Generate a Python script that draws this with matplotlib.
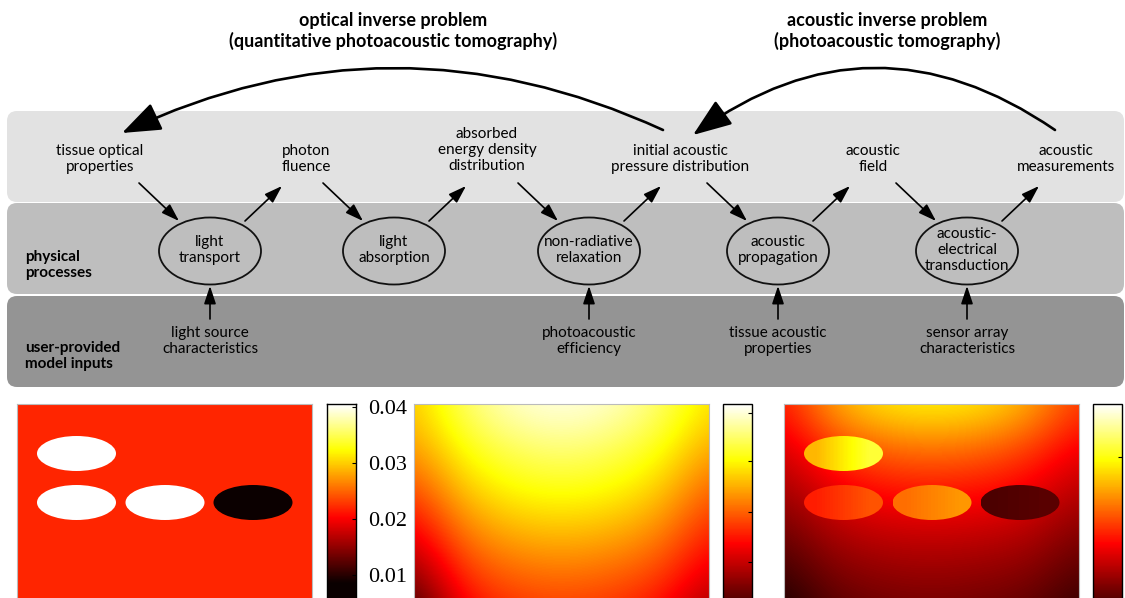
import matplotlib.pyplot as plt
import numpy as np
from matplotlib.patches import FancyBboxPatch, Ellipse, FancyArrowPatch
from matplotlib.colors import Normalize

plt.rcParams['font.family'] = ['Lato', 'DejaVu Sans']

W, H = 1125, 598

# ---- diagram text ----
optical_title = 'optical inverse problem\n(quantitative photoacoustic tomography)'
acoustic_title = 'acoustic inverse problem\n(photoacoustic tomography)'
quantity_labels = ['tissue optical\nproperties', 'photon\nfluence',
                   'absorbed\nenergy density\ndistribution',
                   'initial acoustic\npressure distribution',
                   'acoustic\nfield', 'acoustic\nmeasurements']
process_labels = ['light\ntransport', 'light\nabsorption',
                  'non-radiative\nrelaxation', 'acoustic\npropagation',
                  'acoustic-\nelectrical\ntransduction']
input_labels = ['light source\ncharacteristics', '', 'photoacoustic\nefficiency',
                'tissue acoustic\nproperties', 'sensor array\ncharacteristics']
band_labels = ['physical\nprocesses', 'user-provided\nmodel inputs']

# ---- images ----
mua_background = 0.022
mua_inclusions = [0.045, 0.045, 0.045, 0.004]
cbar1_ticks = [0.01, 0.02, 0.03, 0.04]

# fluence, as fraction of the colour scale (rows top->bottom, cols left->right)
fluence_grid = np.array([
    [0.66, 0.85, 0.95, 0.98, 0.95, 0.86, 0.70],
    [0.59, 0.76, 0.84, 0.87, 0.84, 0.77, 0.61],
    [0.46, 0.66, 0.74, 0.76, 0.74, 0.67, 0.50],
    [0.32, 0.54, 0.62, 0.64, 0.62, 0.56, 0.40],
    [0.16, 0.43, 0.50, 0.52, 0.50, 0.45, 0.30],
    [0.02, 0.33, 0.41, 0.43, 0.41, 0.35, 0.18],
])
# initial pressure background
pressure_grid = np.array([
    [0.40, 0.62, 0.72, 0.74, 0.72, 0.63, 0.45],
    [0.30, 0.45, 0.52, 0.54, 0.52, 0.46, 0.34],
    [0.22, 0.33, 0.38, 0.39, 0.38, 0.34, 0.25],
    [0.14, 0.24, 0.27, 0.28, 0.27, 0.25, 0.17],
    [0.06, 0.16, 0.19, 0.20, 0.19, 0.17, 0.10],
    [0.00, 0.10, 0.13, 0.14, 0.13, 0.11, 0.04],
])
# initial pressure in each inclusion (left, middle, right)
pressure_inclusions = [[0.64, 0.72, 0.80], [0.41, 0.45, 0.49],
                       [0.53, 0.56, 0.59], [0.10, 0.11, 0.12]]

fig = plt.figure(figsize=(W / 100, H / 100), dpi=100)
ax = fig.add_axes([0, 0, 1, 1])
ax.set_xlim(0, W)
ax.set_ylim(H, 0)
ax.axis('off')

# bands
for y0, y1, c in [(111, 202, '#e2e2e2'), (203, 294, '#bebebe'), (296, 387, '#949494')]:
    ax.add_patch(FancyBboxPatch((7, y0), 1117, y1 - y0,
                                boxstyle='round,pad=0,rounding_size=10',
                                fc=c, ec='none'))

ax.text(393, 31, optical_title, ha='center', va='center', fontsize=13,
        fontweight='bold', linespacing=1.25)
ax.text(887, 31, acoustic_title, ha='center', va='center', fontsize=13,
        fontweight='bold', linespacing=1.25)

arrow_kw = dict(arrowstyle='-|>,head_length=0.9,head_width=0.3',
                lw=1.2, color='k', shrinkA=0, shrinkB=0, mutation_scale=12)

qx = [100, 306, 487, 680, 873, 1066]
for x, lab in zip(qx, quantity_labels):
    yc = 150 if lab.count('\n') == 2 else 159
    ax.text(x, yc, lab, ha='center', va='center', fontsize=11, linespacing=1.2)

px = [210, 394, 589, 778, 967]
for x, lab in zip(px, process_labels):
    ax.add_patch(Ellipse((x, 251), 102, 67, fc='none', ec='#111111', lw=1.3))
    ax.text(x, 250, lab, ha='center', va='center', fontsize=11, linespacing=1.2)
    # incoming / outgoing arrows
    ax.annotate('', xy=(x - 31, 221), xytext=(x - 71, 183), arrowprops=arrow_kw)
    ax.annotate('', xy=(x + 72, 186), xytext=(x + 35, 221), arrowprops=arrow_kw)
for x, lab in zip(px, input_labels):
    if not lab:
        continue
    ax.text(x, 341, lab, ha='center', va='center', fontsize=11, linespacing=1.2)
    ax.annotate('', xy=(x, 286), xytext=(x, 319), arrowprops=arrow_kw)

ax.text(25, 265, band_labels[0], ha='left', va='center', fontsize=11,
        fontweight='bold', linespacing=1.2)
ax.text(25, 356, band_labels[1], ha='left', va='center', fontsize=11,
        fontweight='bold', linespacing=1.2)

# large curved arrows
for a, b, r in [((663, 130), (122, 133), 0.233), ((1055, 130), (693, 135), 0.354)]:
    ax.add_patch(FancyArrowPatch(a, b, connectionstyle=f'arc3,rad={r}',
                                 arrowstyle='-|>,head_length=1.2,head_width=0.45',
                                 mutation_scale=20, lw=1.9, color='k',
                                 shrinkA=0, shrinkB=0))


def box(x0, y0, x1, y1):
    return [x0 / W, 1 - y1 / H, (x1 - x0) / W, (y1 - y0) / H]


cmap = plt.get_cmap('hot')
PW, PH = 295, 220
inc_centers = [(59.5, 49.5), (59.5, 98.5), (148, 98.5), (236, 98.5)]
inc_w, inc_h = 79, 35


def panel(x0):
    p = fig.add_axes(box(x0, 404, x0 + PW, 404 + PH))
    p.set_xlim(0, PW)
    p.set_ylim(PH, 0)
    p.set_xticks([])
    p.set_yticks([])
    for s in p.spines.values():
        s.set_color('#bbbbbb')
        s.set_linewidth(0.8)
    return p


grid_ext = [-PW / 12, PW + PW / 12, PH + PH / 10, -PH / 10]

# panel 1: absorption
norm1 = Normalize(0.0085, 0.0405)
p1 = panel(17)
p1.set_facecolor(cmap(norm1(mua_background)))
for (cx, cy), v in zip(inc_centers, mua_inclusions):
    p1.add_patch(Ellipse((cx, cy), inc_w, inc_h, fc=cmap(norm1(v)), ec='none'))

c1 = fig.add_axes(box(327, 404, 356, 624))
lo = 0.04 - (624 - 407) / 5600
hi = 0.04 + 3 / 5600
ramp = np.linspace(lo, hi, 256)[:, None]
c1.imshow(ramp, extent=[0, 1, lo, hi], origin='lower', aspect='auto',
          cmap=cmap, norm=norm1)
c1.set_ylim(lo, hi)
c1.set_xticks([])
c1.yaxis.tick_right()
c1.set_yticks(cbar1_ticks)
c1.set_yticklabels(['%.2f' % t for t in cbar1_ticks], family='Liberation Serif',
                   fontsize=16)
c1.tick_params(axis='y', direction='in', length=3, pad=9)
for s in c1.spines.values():
    s.set_linewidth(1.0)

# panel 2: fluence
p2 = panel(414)
im2 = p2.imshow(fluence_grid, extent=grid_ext, cmap=cmap, vmin=0, vmax=1,
                interpolation='bicubic', aspect='auto')
p2.set_xlim(0, PW)
p2.set_ylim(PH, 0)
c2 = fig.add_axes(box(723, 404, 752, 624))
cb2 = fig.colorbar(im2, cax=c2, ticks=[0.28, 0.51, 0.74, 0.96])
c2.tick_params(direction='in', length=3, labelright=False)
cb2.outline.set_linewidth(1.0)

# panel 3: initial pressure
p3 = panel(784)
im3 = p3.imshow(pressure_grid, extent=grid_ext, cmap=cmap, vmin=0, vmax=1,
                interpolation='bicubic', aspect='auto')
for (cx, cy), vals in zip(inc_centers, pressure_inclusions):
    e = Ellipse((cx, cy), inc_w, inc_h, fc='none', ec='none')
    p3.add_patch(e)
    img = p3.imshow([vals], extent=[cx - inc_w / 2, cx + inc_w / 2,
                                    cy + inc_h / 2, cy - inc_h / 2],
                    cmap=cmap, vmin=0, vmax=1, interpolation='bilinear',
                    aspect='auto')
    img.set_clip_path(e)
p3.set_xlim(0, PW)
p3.set_ylim(PH, 0)
c3 = fig.add_axes(box(1093, 404, 1122, 624))
cb3 = fig.colorbar(im3, cax=c3, ticks=[0.76])
c3.tick_params(direction='in', length=3, labelright=False)
cb3.outline.set_linewidth(1.0)

fig.savefig('out.png', dpi=100)
